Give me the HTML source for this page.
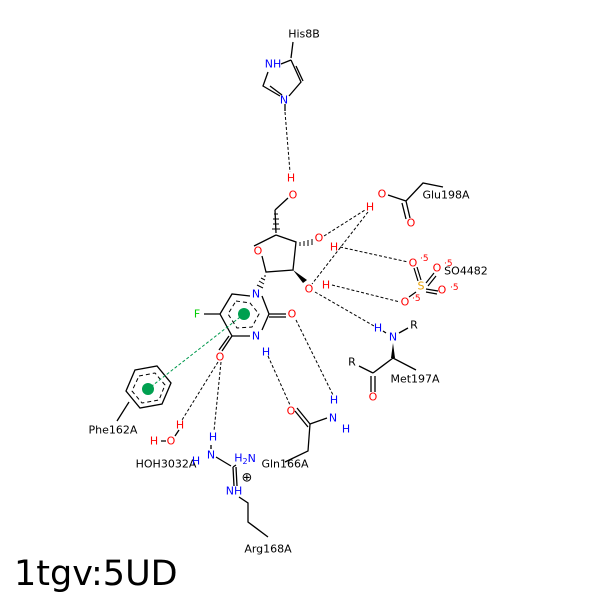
<!DOCTYPE html>
<html><head><meta charset="utf-8"><style>body{margin:0;background:#fff}svg{display:block}</style></head><body>
<svg width="600" height="600" viewBox="0 0 600 600" xmlns="http://www.w3.org/2000/svg" font-family="DejaVu Sans, Liberation Sans, sans-serif" font-size="11">
<rect width="600" height="600" fill="#fff"/>
<g stroke="#000" stroke-width="1.3" fill="none">
<path d="M293 42 L291 58 M291 60 L301 82 L289 96 M280 96 L263 86 L268 72 M281 64 L291 60 M296 66 L303 81 M270 86 L282 95 M285 104 L285 111"/>
<path d="M288 198 L275 210 M275 210 L276 233"/>
<path d="M276 235 L296 242 L293 270 L266 272 L262 256 M254 246 L276 235"/>
<path d="M388 195 L406 201 L423 183 L443 187 M406 201 L410 218 M402 203 L406 219"/>
<path d="M250 296 L232 294 L220 314 L232 336 L250 336 M262 296 L269 314 L262 330 M269 314 L286 314 M269 317 L286 317 M220 314 L204 314 M232 336 L222 351 M229 336 L219 350"/>
<path d="M135 370 L157 366 L171 383 L162 404 L140 408 L126 391 Z M129 402 L117 421"/>
<path d="M161 441 L166 441 M175 436 L179 430"/>
<path d="M211 449 L211 445 M216 457 L231 466 M233 467 L234 486 M236 467 L237 486 M239 497 L248 503 L248 522 L268 537 M233 467 L236 465"/>
<path d="M297 408 L310 424 M295 411 L308 427 M310 424 L327 418 M310 424 L308 451 L285 462"/>
<path d="M386 333 L383 331 M399 333 L408 328 M373 373 L393 358 L416 370 M373 373 L359 366 M371 376 L371 392 M375 376 L375 392"/>
</g>
<polygon points="393,343 391,358 395,358" fill="#000"/>
<polygon points="293,270 303,283 307,280" fill="#000"/>
<g stroke="#000" stroke-width="1">
<path d="M274 214 L278 214 M273 219 L279 219 M273 224 L279 224 M272 229 L280 229"/>
<path d="M300 242 L300 246 M304 241 L304 246 M308 240 L308 246 M312 239 L312 245"/>
<path d="M266 276 L264 276 M265 280 L261 278 M264 284 L259 281 M263 288 L257 285"/>
</g>
<g stroke="#000" stroke-width="1" fill="none" stroke-dasharray="4,3">
<path d="M236 301 L250 303 L259 314 L252 327 L237 328 L228 314 Z"/>
<path d="M139 376 L155 373 L165 385 L159 400 L142 403 L132 391 Z"/>
</g>
<g stroke="#000" stroke-width="1.2">
<path d="M414 268 L418 281 M417 267 L421 280 M426 283 L434 273 M428 286 L436 276 M426 289 L438 291 M426 292 L437 294 M416 292 L409 297"/>
</g>
<g stroke="#000" stroke-width="1" stroke-dasharray="3,2" fill="none">
<path d="M285 112 L290 172"/>
<path d="M324 236 L365 210"/>
<path d="M340 247 L408 262"/>
<path d="M368 212 L312 284"/>
<path d="M332 285 L400 302"/>
<path d="M315 292 L374 326"/>
<path d="M296 320 L333 395"/>
<path d="M268 356 L290 405"/>
<path d="M218 362 L182 420"/>
<path d="M221 362 L214 431"/>
</g>
<line x1="244" y1="314" x2="148" y2="389" stroke="#00994d" stroke-width="1" stroke-dasharray="3,2"/>
<circle cx="244" cy="314" r="6" fill="#00a050"/>
<circle cx="148" cy="389" r="6" fill="#00a050"/>
<g text-anchor="middle" dominant-baseline="central">
<text x="304" y="34">His8B</text>
<text x="273" y="64" fill="#00f">NH</text>
<text x="284" y="100" fill="#00f">N</text>
<text x="291" y="178" fill="#f00">H</text>
<text x="293" y="195" fill="#f00">O</text>
<text x="258" y="251" fill="#f00">O</text>
<text x="319" y="238" fill="#f00">O</text>
<text x="334" y="247" fill="#f00">H</text>
<text x="309" y="289" fill="#f00">O</text>
<text x="326" y="285" fill="#f00">H</text>
<text x="370" y="207" fill="#f00">H</text>
<text x="382" y="194" fill="#f00">O</text>
<text x="411" y="223" fill="#f00">O</text>
<text x="446" y="195">Glu198A</text>
<text x="413" y="263" fill="#f00">O</text>
<text x="437" y="268" fill="#f00">O</text>
<text x="442" y="290" fill="#f00">O</text>
<text x="405" y="302" fill="#f00">O</text>
<text x="421" y="286" fill="#e8a000">S</text>
<text x="466" y="271">SO4482</text>
<text x="256" y="294" fill="#00f">N</text>
<text x="292" y="314" fill="#f00">O</text>
<text x="256" y="336" fill="#00f">N</text>
<text x="266" y="352" fill="#00f">H</text>
<text x="220" y="357" fill="#f00">O</text>
<text x="197" y="314" fill="#0c0">F</text>
<text x="113" y="430">Phe162A</text>
<text x="180" y="425" fill="#f00">H</text>
<text x="171" y="441" fill="#f00">O</text>
<text x="154" y="441" fill="#f00">H</text>
<text x="166" y="464">HOH3032A</text>
<text x="213" y="437" fill="#00f">H</text>
<text x="211" y="455" fill="#00f">N</text>
<text x="196" y="461" fill="#00f">H</text>
<text x="245" y="458" fill="#00f">H<tspan font-size="8" dy="3">2</tspan><tspan dy="-3">N</tspan></text>
<text x="234" y="491" fill="#00f">NH</text>
<text x="247" y="478" font-size="13">⊕</text>
<text x="268" y="549">Arg168A</text>
<text x="291" y="411" fill="#f00">O</text>
<text x="333" y="418" fill="#00f">N</text>
<text x="334" y="400" fill="#00f">H</text>
<text x="346" y="429" fill="#00f">H</text>
<text x="285" y="464">Gln166A</text>
<text x="378" y="328" fill="#00f">H</text>
<text x="393" y="337" fill="#00f">N</text>
<text x="414" y="325">R</text>
<text x="352" y="362">R</text>
<text x="373" y="397" fill="#f00">O</text>
<text x="415" y="379">Met197A</text>
</g>
<g fill="#f00" font-size="9">
<text x="420" y="261">·5</text><text x="444" y="266">·5</text><text x="450" y="290">·5</text><text x="412" y="301">·5</text>
</g>
<text x="14" y="585" font-size="35" font-family="DejaVu Sans, sans-serif">1tgv:5UD</text>
</svg>
</body></html>
